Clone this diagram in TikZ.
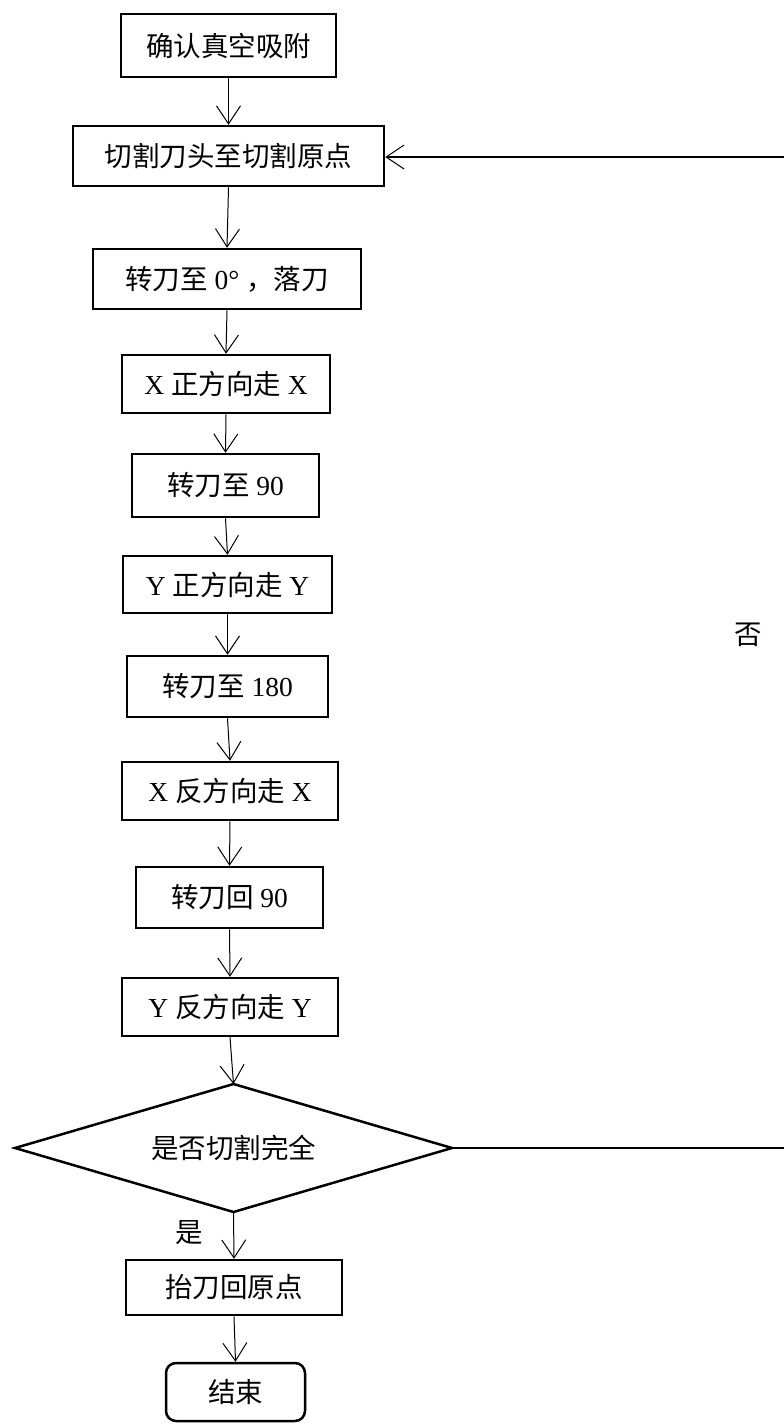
\documentclass[tikz,border=0pt]{standalone}
\usepackage{fontspec}
\setmainfont{Liberation Serif}
\newfontfamily\cjk{Noto Sans CJK SC}
\usetikzlibrary{arrows.meta}
\tikzset{
  box/.style={draw, line width=2.5pt, inner sep=0pt, font=\fontsize{27.5}{32}\selectfont},
  arr/.style={line width=1pt, -{Straight Barb[length=18pt,width=24pt,line width=1pt]}},
  lbl/.style={font=\fontsize{27.5}{32}\selectfont\cjk}
}
\newcommand{\bx}[7]{% name, x1, y1, x2, y2, text
  \node[box, minimum width={#4-#2}, minimum height={#5-#3}] (#1) at ({(#2+#4)/2},{(#3+#5)/2}) {#6};}
\begin{document}
\begin{tikzpicture}[x=1pt,y=-1pt]
\useasboundingbox (0,0) rectangle (784,1425);
\bx{b1}{121}{14}{336}{77}{\cjk 确认真空吸附}{}
\bx{b2}{73}{126}{384}{186}{\cjk 切割刀头至切割原点}{}
\bx{b3}{93}{249}{361}{309}{{\cjk 转刀至} 0°\ {\cjk ，落刀}}{}
\bx{b4}{122}{355}{330}{413}{X {\cjk 正方向走} X}{}
\bx{b5}{132}{454}{319}{517}{{\cjk 转刀至} 90}{}
\bx{b6}{123}{556}{332}{613}{Y {\cjk 正方向走} Y}{}
\bx{b7}{127}{656}{328}{717}{{\cjk 转刀至} 180}{}
\bx{b8}{122}{762}{338}{820}{X {\cjk 反方向走} X}{}
\bx{b9}{136}{867}{323}{928}{{\cjk 转刀回} 90}{}
\bx{b10}{122}{978}{338}{1036}{Y {\cjk 反方向走} Y}{}
% decision diamond
\coordinate (d-n) at (233.5,1084);
\coordinate (d-s) at (233.5,1212);
\coordinate (d-w) at (15,1148);
\coordinate (d-e) at (452,1148);
\draw[line width=2.5pt, line join=miter] (d-n) -- (d-e) -- (d-s) -- (d-w) -- cycle;
\node[lbl] (d) at (233.5,1148) {是否切割完全};
\bx{b11}{126}{1260}{342}{1315}{\cjk 抬刀回原点}{}
\node[box, rounded corners=10pt, minimum width=139pt, minimum height=58pt] (e) at (235.5,1392) {\cjk 结束};
\coordinate (r1) at (784,157);
\coordinate (r2) at (784,1148);
\draw[arr] (b1.south) -- (b2.north);
\draw[arr] (b2.south) -- (b3.north);
\draw[arr] (b3.south) -- (b4.north);
\draw[arr] (b4.south) -- (b5.north);
\draw[arr] (b5.south) -- (b6.north);
\draw[arr] (b6.south) -- (b7.north);
\draw[arr] (b7.south) -- (b8.north);
\draw[arr] (b8.south) -- (b9.north);
\draw[arr] (b9.south) -- (b10.north);
\draw[arr] (b10.south) -- (d-n);
\draw[arr] (d-s) -- (b11.north);
\draw[arr] (b11.south) -- (e.north);
\draw[line width=1.3pt] (d-e) -- (r2);
\draw[arr, line width=1.3pt] (r1) -- (b2.east |- r1);
\node[lbl] (no) at (748,635) {否};
\node[lbl] (yes) at (189,1233) {是};
\end{tikzpicture}
\end{document}
